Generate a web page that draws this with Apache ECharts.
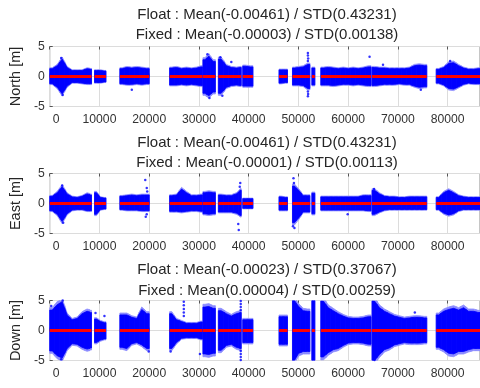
<!DOCTYPE html>
<html><head><meta charset="utf-8">
<script src="https://cdn.jsdelivr.net/npm/echarts@6/dist/echarts.min.js"></script>
<style>html,body{margin:0;padding:0;background:#fff}#c{width:480px;height:388px}</style>
</head><body><div id="c"></div>
<script>
// x-bins of the dense Float clouds (shared by the three panels)
const binStart = [0,1000,2000,3000,4000,5000,6000,7000,8000,
  9000,9800,10600,
  14100,15000,16000,17000,18000,19000,
  24100,25000,26000,27000,28000,29000,30000,
  30800,31600,32400,
  33900,35000,36000,37000,38000,
  38800,39800,
  46100,46950,
  48800,49600,50500,51400,
  52700,
  54500,55500,56500,57500,58500,59500,60500,61500,62500,63500,
  64800,65800,66800,67800,68800,69800,70800,71800,72800,73800,74800,
  77700,78700,79700,80700,81700,82700,83700,84700,85700];
const binEnd = [1000,2000,3000,4000,5000,6000,7000,8000,8400,
  9800,10600,11300,
  15000,16000,17000,18000,19000,20000,
  25000,26000,27000,28000,29000,30000,30700,
  31600,32400,33300,
  35000,36000,37000,38000,38500,
  39800,40850,
  46950,47800,
  49600,50500,51400,52300,
  53300,
  55500,56500,57500,58500,59500,60500,61500,62500,63500,64600,
  65800,66800,67800,68800,69800,70800,71800,72800,73800,74800,75800,
  78700,79700,80700,81700,82700,83700,84700,85700,86500];

const northHi = [1.3,1.8,2.9,1.5,1.0,1.0,1.0,1.3,1.2, 1.0,1.0,0.9, 1.3,1.5,1.4,1.5,1.4,1.3,
  1.4,1.5,1.3,1.4,1.3,1.4,1.6, 2.8,3.4,2.5, 2.9,1.8,1.5,1.4,1.5, 1.7,1.6, 1.1,1.1,
  1.4,1.5,1.6,2.0, 1.4, 1.4,1.5,1.4,1.3,1.4,1.3,1.4,1.3,1.4,1.6,
  1.5,1.4,1.4,1.3,1.3,1.3,1.3,1.4,1.8,1.9,1.8, 1.2,1.5,2.2,2.3,1.8,1.4,1.2,1.2,1.3];
const northLo = [-1.2,-1.8,-2.9,-1.6,-1.0,-1.0,-1.1,-1.2,-1.2, -1.0,-1.0,-0.9, -1.2,-1.3,-1.3,-1.2,-1.3,-1.2,
  -1.4,-1.4,-1.3,-1.4,-1.3,-1.4,-1.5, -2.8,-3.2,-2.6, -2.8,-1.8,-1.5,-1.4,-1.5, -1.6,-1.6, -1.1,-1.0,
  -1.4,-1.4,-1.5,-2.0, -1.4, -1.4,-1.4,-1.5,-1.4,-1.3,-1.3,-1.4,-1.3,-1.4,-1.5,
  -1.5,-1.4,-1.3,-1.3,-1.3,-1.2,-1.3,-1.3,-1.6,-1.8,-1.7, -1.1,-1.4,-2.0,-2.1,-1.7,-1.3,-1.1,-1.2,-1.2];
const eastHi = [1.2,1.8,2.8,1.6,1.1,1.0,1.2,1.6,1.4, 1.8,1.0,0.9, 1.2,1.3,1.4,1.3,1.4,1.4,
  1.3,1.4,2.4,1.8,1.3,1.3,1.4, 1.8,1.9,1.8, 1.4,1.3,1.3,1.6,2.2, 0.8,0.8, 1.1,1.0,
  2.9,2.2,1.3,1.3, 1.7, 1.1,1.1,1.1,1.1,1.1,1.1,1.1,1.1,1.3,1.3,
  2.2,1.6,1.2,1.1,1.1,1.0,1.0,1.1,1.1,1.1,1.1, 1.0,1.8,2.2,1.8,1.3,1.1,1.0,1.0,1.0];
const eastLo = [-1.2,-1.8,-3.0,-1.7,-1.1,-1.0,-1.0,-1.2,-1.2, -1.8,-1.0,-0.9, -1.0,-1.1,-1.1,-1.1,-1.2,-1.2,
  -1.3,-1.3,-1.4,-1.3,-1.2,-1.2,-1.3, -1.7,-1.8,-1.7, -1.4,-1.4,-1.4,-1.6,-2.0, -0.8,-0.8, -1.1,-1.1,
  -3.2,-2.4,-1.4,-1.4, -1.7, -1.1,-1.1,-1.1,-1.1,-1.1,-1.1,-1.1,-1.1,-1.1,-1.2,
  -1.8,-1.4,-1.1,-1.0,-1.0,-1.0,-1.0,-1.0,-1.0,-1.0,-1.0, -1.0,-1.6,-1.9,-1.7,-1.2,-1.0,-1.0,-1.0,-1.0];
const downHi = [3.4,4.3,4.8,2.6,1.8,2.0,2.8,3.2,3.0, 1.9,1.5,1.3, 2.6,2.6,2.2,2.0,3.5,2.8,
  2.8,1.8,1.5,1.2,1.2,1.2,1.4, 3.9,4.0,3.7, 3.3,2.8,2.4,2.8,3.0, 1.8,1.8, 2.3,2.3,
  5.0,4.0,3.3,3.2, 5.0, 4.9,3.8,3.3,2.8,2.4,2.1,2.0,2.0,2.1,2.3,
  4.9,3.8,3.2,2.8,2.4,2.2,2.0,2.1,2.2,2.2,2.1, 2.6,3.2,3.5,3.7,3.4,3.8,3.2,3.2,3.0];
const downLo = [-3.4,-4.2,-4.6,-3.0,-2.2,-2.3,-2.8,-3.1,-2.9, -2.0,-1.6,-1.4, -2.8,-3.0,-2.2,-2.0,-2.4,-3.0,
  -3.0,-2.0,-1.3,-1.2,-1.2,-1.2,-1.4, -3.9,-4.0,-3.8, -3.3,-2.5,-2.3,-2.8,-3.0, -2.0,-2.0, -2.3,-2.3,
  -5.0,-3.8,-3.5,-3.5, -5.0, -4.4,-3.7,-3.2,-3.0,-2.5,-2.1,-2.0,-2.0,-2.1,-2.3,
  -5.0,-4.0,-3.2,-2.9,-2.4,-2.2,-2.0,-2.1,-2.1,-2.1,-2.0, -2.8,-3.2,-3.8,-3.9,-3.5,-3.5,-3.2,-3.0,-3.0];

// sparse Float points outside the dense clouds
const northOut = [[2300,3.1],[2600,-3.1],[16500,-2.2],[31700,3.7],[32100,-3.6],[34300,3.2],[34700,-3.2],
  [51900,3.9],[51900,3.5],[51950,3.0],[51900,2.6],[51900,-2.5],[51950,-2.9],[51900,-3.3],
  [64300,3.3],[67000,1.95],[74600,-2.2],[80500,2.6],[36500,2.4]];
const eastOut = [[19200,3.9],[19500,2.6],[19600,2.0],[19300,-2.2],[19500,-1.8],[38300,3.4],[38200,2.8],
  [38000,-4.4],[37900,-3.4],[49000,4.2],[49100,3.4],[48900,-3.8],[49200,-4.1],[65200,2.4],
  [2500,3.0],[2700,-3.2],[59900,-1.8]];
const downOut = [[300,4.1],[2600,5.0],[2300,-4.8],[9200,2.9],[26950,4.8],[26950,4.2],[26950,3.6],
  [26950,3.0],[26950,2.4],[38400,4.9],[38400,4.4],[38400,3.9],[38400,3.4],[38400,-3.4],
  [38400,-3.9],[38400,-4.4],[38400,-4.9],[65300,-4.9],[30200,-3.9],[24300,-3.5],[19900,-3.5],
  [11000,2.4],[73400,3.0]];

// Fixed solution segments (values ~0)
const fixedStart = [0,9000,14100,24100,30800,33900,38800,46100,48800,52700,54500,64800,77700];
const fixedEnd   = [8400,11300,20000,30700,33300,38500,40850,47800,52300,53300,64600,75800,86500];

const titles = [
  ['Float : Mean(-0.00461) / STD(0.43231)','Fixed : Mean(-0.00003) / STD(0.00138)'],
  ['Float : Mean(-0.00461) / STD(0.43231)','Fixed : Mean(-0.00001) / STD(0.00113)'],
  ['Float : Mean(-0.00023) / STD(0.37067)','Fixed : Mean(0.00004) / STD(0.00259)']
];
const yNames = ['North [m]','East [m]','Down [m]'];

const panels = [
  {hi: northHi, lo: northLo, out: northOut},
  {hi: eastHi, lo: eastLo, out: eastOut},
  {hi: downHi, lo: downLo, out: downOut}
];

const FONT = "'Liberation Sans', Arial, Helvetica, sans-serif";
const gridTops = [46.5, 173.5, 300.5];
const gridH = 60, gridL = 47, gridW = 440;
const titleY = [14.5, 142.5, 270];

const fixedData = [];
fixedStart.forEach((s, k) => { fixedData.push([s, 0], [fixedEnd[k], 0], [fixedEnd[k], '-']); });

// each bin item: start, end, hi, lo, hi/lo at left and right edges (mean with contiguous neighbour)
function binItems(hi, lo) {
  return binStart.map((s, k) => {
    const leftJoin = k > 0 && binEnd[k - 1] === s;
    const rightJoin = k < binStart.length - 1 && binStart[k + 1] === binEnd[k];
    const hL = leftJoin ? (hi[k - 1] + hi[k]) / 2 : hi[k];
    const lL = leftJoin ? (lo[k - 1] + lo[k]) / 2 : lo[k];
    const hR = rightJoin ? (hi[k + 1] + hi[k]) / 2 : hi[k];
    const lR = rightJoin ? (lo[k + 1] + lo[k]) / 2 : lo[k];
    return [s, binEnd[k], hi[k], lo[k], hL, lL, hR, lR];
  });
}

function cloudRender(scale, color) {
  return (params, api) => {
    const s = api.value(0), e = api.value(1), m = (s + e) / 2;
    const pts = [
      api.coord([s, api.value(4) * scale]), api.coord([m, api.value(2) * scale]), api.coord([e, api.value(6) * scale]),
      api.coord([e, api.value(7) * scale]), api.coord([m, api.value(3) * scale]), api.coord([s, api.value(5) * scale])
    ];
    return {type: 'polygon', shape: {points: pts},
      style: {fill: color, stroke: color, lineWidth: 0.8}};
  };
}

const grid = [], xAxis = [], yAxis = [], series = [], graphic = [];
panels.forEach((p, i) => {
  grid.push({left: gridL, top: gridTops[i], width: gridW, height: gridH, show: true,
    borderColor: '#8c8c8c', borderWidth: 1, backgroundColor: '#fff'});
  const common = {type: 'value', gridIndex: i, min: 0, max: 86500, interval: 10000};
  xAxis.push(Object.assign({}, common, {position: 'bottom',
    axisLine: {show: false},
    axisTick: {show: true, inside: true, length: 3, lineStyle: {color: '#555'}},
    axisLabel: {margin: 7, fontSize: 12.2, color: '#333', fontFamily: FONT, showMaxLabel: false,
      formatter: v => v === 0 ? '{z|0}' : String(v),
      rich: {z: {padding: [0, 0, 0, 13], fontSize: 12.2, color: '#333', fontFamily: FONT}}},
    splitLine: {show: true, lineStyle: {color: '#dcdcdc', width: 1}}}));
  xAxis.push(Object.assign({}, common, {position: 'top',
    axisLine: {show: false},
    axisTick: {show: true, inside: true, length: 3, lineStyle: {color: '#555'}},
    axisLabel: {show: false}, splitLine: {show: false}}));
  yAxis.push({type: 'value', gridIndex: i, min: -5, max: 5, interval: 5,
    axisLine: {show: false},
    axisTick: {show: true, inside: true, length: 3, lineStyle: {color: '#555'}},
    axisLabel: {margin: 5, fontSize: 12.2, color: '#333', fontFamily: FONT},
    splitLine: {show: true, lineStyle: {color: '#dcdcdc', width: 1}},
    name: yNames[i], nameLocation: 'middle', nameGap: 22, nameRotate: 90,
    nameTextStyle: {fontSize: 14.5, color: '#262626', fontFamily: FONT}});
  const items = binItems(p.hi, p.lo);
  // lighter fringe of sparse points around the cloud
  series.push({type: 'custom', xAxisIndex: i * 2, yAxisIndex: i, clip: true, silent: true,
    data: items, encode: {x: [0, 1], y: [2, 3]}, renderItem: cloudRender(1.12, '#8a8aff'), z: 2});
  // dense cloud core
  series.push({type: 'custom', xAxisIndex: i * 2, yAxisIndex: i, clip: true, silent: true,
    data: items, encode: {x: [0, 1], y: [2, 3]}, renderItem: cloudRender(1, '#0000ff'), z: 3});
  series.push({type: 'scatter', xAxisIndex: i * 2, yAxisIndex: i, data: p.out, symbolSize: 2.5,
    itemStyle: {color: '#0000ff'}, silent: true, z: 3});
  series.push({type: 'line', xAxisIndex: i * 2, yAxisIndex: i, data: fixedData, showSymbol: false,
    lineStyle: {color: '#ff0000', width: 3}, silent: true, z: 5});
  titles[i].forEach((t, j) => {
    graphic.push({type: 'text', x: 267, y: titleY[i] + j * 20.5,
      style: {text: t, fill: '#262626', font: '15px ' + FONT, textAlign: 'center', textVerticalAlign: 'middle'}});
  });
});

const chart = echarts.init(document.getElementById('c'), null, {renderer: 'canvas'});
chart.setOption({animation: false, backgroundColor: '#fff', grid, xAxis, yAxis, series, graphic});
</script></body></html>
